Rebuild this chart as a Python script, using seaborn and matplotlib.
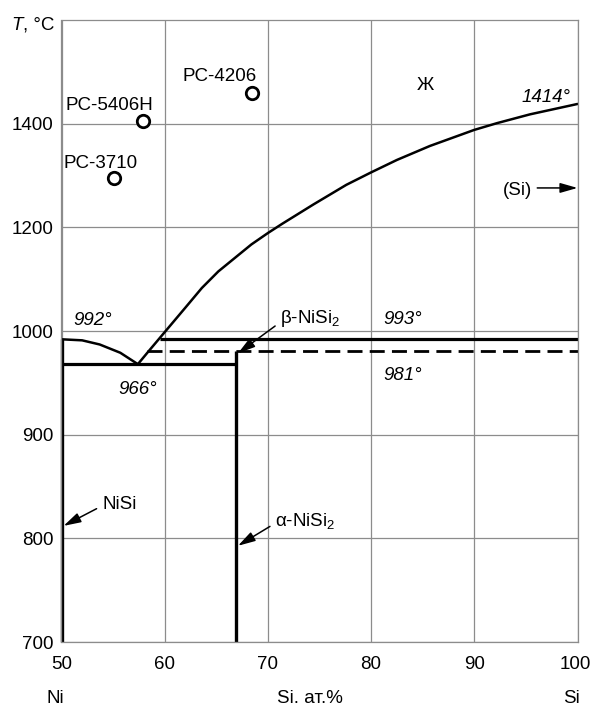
import numpy as np
import pandas as pd
import seaborn as sns
from matplotlib import pyplot as plt
from matplotlib import font_manager
from matplotlib.transforms import ScaledTranslation

# liquidus from the eutectic up to Si melting point
liq_x = [57.4, 58.4, 59.5, 62.0, 63.6, 65.2, 66.8, 68.4, 70.0, 71.4, 74.4, 77.6,
         80.0, 82.5, 85.7, 90.0, 92.2, 95.4, 100.0]
liq_t = [968, 980, 993, 1045, 1083, 1115, 1141, 1167, 1189, 1207, 1244, 1282,
         1306, 1330, 1357, 1388, 1401, 1418, 1438]

# liquidus on the NiSi side
left_x = [50.0, 52.0, 53.7, 55.7, 57.4]
left_t = [992, 991, 987, 979, 968]

# invariant lines
eut_t, eut_x = 968, [50.0, 66.9]
peri_t, peri_x = 992, [59.5, 100.0]
trans_t, trans_x = 981, [58.3, 100.0]
nisi_x, nisi_t = 50.0, [700, 992]
nisi2_x, nisi2_t = 66.9, [700, 981]

# solder compositions
pts = pd.DataFrame({"x": [57.9, 68.5, 55.1], "t": [1405, 1460, 1295],
                    "name": ["PC-5406H", "PC-4206", "PC-3710"]})

x_ticks = [50, 60, 70, 80, 90, 100]
y_ticks = [700, 800, 900, 1000, 1200, 1400]


def fwd(t):
    t = np.asarray(t, dtype=float)
    return np.where(t <= 1000, t, 1000 + (t - 1000) / 2)


def inv(u):
    u = np.asarray(u, dtype=float)
    return np.where(u <= 1000, u, 1000 + (u - 1000) * 2)


names = {f.name for f in font_manager.fontManager.ttflist}
if "Liberation Sans Narrow" in names:
    main_font, FS = "Liberation Sans Narrow", 15
else:
    main_font, FS = "Liberation Sans", 13.5

sns.set_theme(style="white")
plt.rcParams["font.family"] = [main_font, "DejaVu Sans"]
plt.rcParams["mathtext.fontset"] = "custom"
plt.rcParams["mathtext.rm"] = main_font
plt.rcParams["mathtext.it"] = main_font + ":italic"
plt.rcParams["text.color"] = "black"
grid_c = "#8c8c8c"

fig = plt.figure(figsize=(5.92, 7.06), dpi=100)
ax = fig.add_axes([61.5 / 592, 64 / 706, 516 / 592, 622 / 706])

sns.lineplot(x=liq_x, y=liq_t, sort=False, estimator=None, color="black", lw=1.8, ax=ax)
sns.lineplot(x=left_x, y=left_t, sort=False, estimator=None, color="black", lw=1.8, ax=ax)
ax.plot(eut_x, [eut_t, eut_t], color="black", lw=2.3, solid_capstyle="butt")
ax.plot(peri_x, [peri_t, peri_t], color="black", lw=2.3, solid_capstyle="butt", clip_on=False)
ax.plot(trans_x, [trans_t, trans_t], color="black", lw=2.0, dashes=(5.4, 2.6), clip_on=False)
ax.plot([nisi_x, nisi_x], nisi_t, color="black", lw=2.4, solid_capstyle="butt", clip_on=False)
ax.plot([nisi2_x, nisi2_x], nisi2_t, color="black", lw=2.4, solid_capstyle="butt")

sns.scatterplot(data=pts, x="x", y="t", s=80, marker="o", facecolor="white",
                edgecolor="black", linewidth=2.0, ax=ax, zorder=5, clip_on=False)

ax.set_yscale("function", functions=(fwd, inv))
ax.set_xlim(50, 100)
ax.set_ylim(700, 1600)
ax.set_xticks(x_ticks)
ax.set_yticks(y_ticks)
ax.set_xticklabels([str(v) for v in x_ticks])
ax.set_yticklabels([str(v) for v in y_ticks])
ax.tick_params(axis="both", length=0, labelsize=FS, colors="black")
ax.tick_params(axis="x", pad=10)
ax.tick_params(axis="y", pad=6)
last = ax.get_xticklabels()[-1]
last.set_transform(last.get_transform() + ScaledTranslation(-2 / 100, 0, fig.dpi_scale_trans))
ax.grid(True, color=grid_c, lw=0.9)
ax.set_axisbelow(True)
for s in ax.spines.values():
    s.set_color(grid_c)
    s.set_linewidth(0.9)
ax.set_xlabel("")
ax.set_ylabel("")

# point labels
ax.text(50.34, 1426, "PC-5406H", fontsize=FS, va="baseline", ha="left")
ax.text(61.7, 1483, "PC-4206", fontsize=FS, va="baseline", ha="left")
ax.text(50.15, 1314, "PC-3710", fontsize=FS, va="baseline", ha="left")

# region / temperature labels
ax.text(85.3, 1464, "Ж", fontsize=FS, va="baseline", ha="center")
ax.text(99.3, 1441, "1414°", fontsize=FS, style="italic", va="baseline", ha="right")
ax.text(51.15, 1011, "992°", fontsize=FS, style="italic", va="baseline", ha="left")
ax.text(55.5, 939.5, "966°", fontsize=FS, style="italic", va="baseline", ha="left")
ax.text(81.2, 1013, "993°", fontsize=FS, style="italic", va="baseline", ha="left")
ax.text(81.2, 953, "981°", fontsize=FS, style="italic", va="baseline", ha="left")

arrow = dict(arrowstyle="-|>,head_length=0.7,head_width=0.2", color="black",
             lw=1.1, mutation_scale=15, shrinkA=0, shrinkB=0)
ax.text(95.6, 1263, "(Si)", fontsize=FS, va="baseline", ha="right")
ax.annotate("", xy=(100, 1276), xytext=(96.1, 1276), arrowprops=arrow, annotation_clip=False)
ax.text(71.2, 1016, r"β-NiSi$_2$", fontsize=FS, va="baseline", ha="left")
ax.annotate("", xy=(67.1, 978.5), xytext=(70.7, 1009.6), arrowprops=arrow)
ax.text(54.0, 828.6, "NiSi", fontsize=FS, va="baseline", ha="left")
ax.annotate("", xy=(50.2, 812), xytext=(53.4, 828.6), arrowprops=arrow)
ax.text(70.7, 811.5, r"α-NiSi$_2$", fontsize=FS, va="baseline", ha="left")
ax.annotate("", xy=(67.1, 792.8), xytext=(70.2, 811.5), arrowprops=arrow)

# axis titles
fig.text(23 / 592, 1 - 30 / 706, "T", fontsize=FS, style="italic", ha="right", va="baseline")
fig.text(23 / 592, 1 - 30 / 706, ", °C", fontsize=FS, ha="left", va="baseline")
fig.text(55 / 592, 3 / 706, "Ni", fontsize=FS, ha="center", va="baseline")
fig.text(310 / 592, 3 / 706, "Si. ат.%", fontsize=FS, ha="center", va="baseline")
fig.text(571.5 / 592, 3 / 706, "Si", fontsize=FS, ha="center", va="baseline")

fig.savefig("out.png", dpi=100, facecolor="white")
